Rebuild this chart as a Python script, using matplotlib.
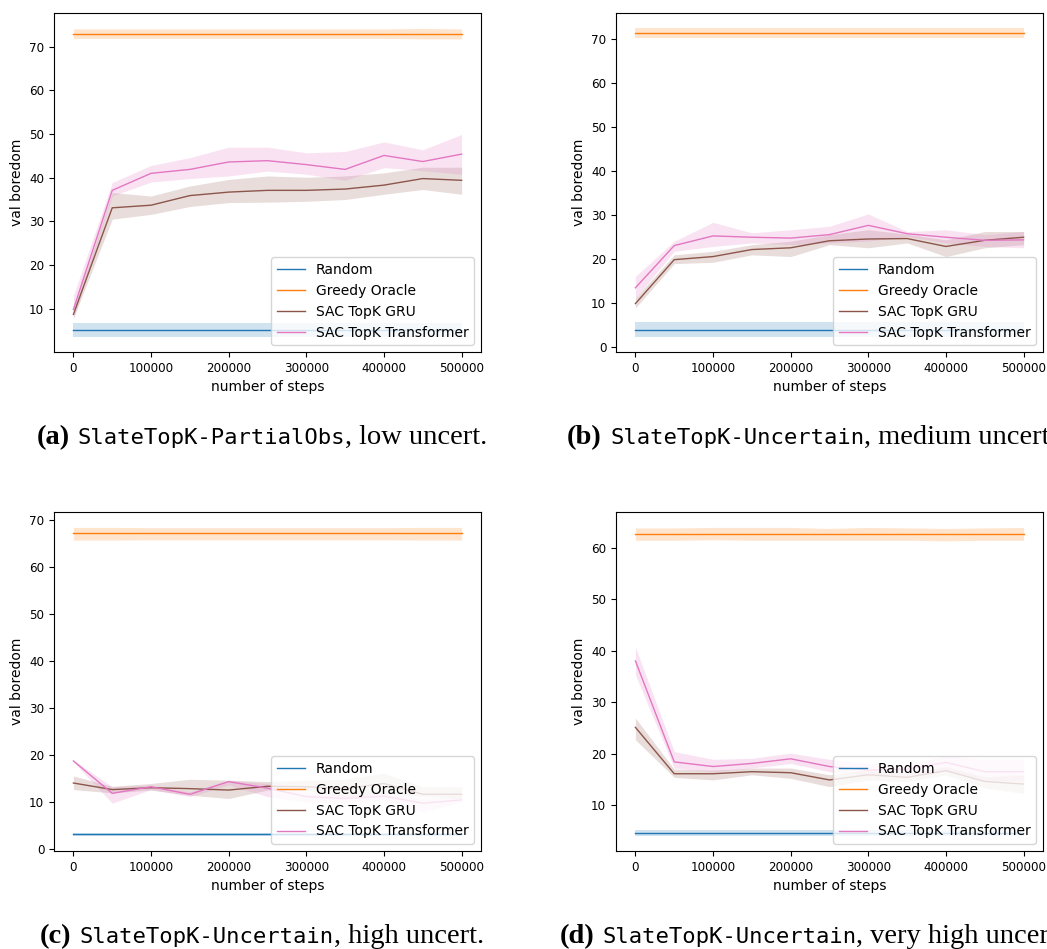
import numpy as np
import matplotlib
matplotlib.use('Agg')
import matplotlib.pyplot as plt
from matplotlib.transforms import IdentityTransform

W, H = 1047, 949

STEPS = [0, 50000, 100000, 150000, 200000, 250000, 300000, 350000, 400000, 450000, 500000]
LABELS = ['Random', 'Greedy Oracle', 'SAC TopK GRU', 'SAC TopK Transformer']

# (a) SlateTopK-PartialObs, low uncert.
rand_a = [5.0, 5.0, 5.0, 5.0, 5.0, 5.0, 5.0, 5.0, 5.0, 5.0, 5.0]
rand_a_lo = [3.6, 3.6, 3.6, 3.6, 3.6, 3.6, 3.6, 3.6, 3.6, 3.6, 3.6]
rand_a_hi = [6.6, 6.6, 6.6, 6.6, 6.6, 6.6, 6.6, 6.6, 6.6, 6.6, 6.6]
greedy_a = [73.0, 73.0, 73.0, 73.0, 73.0, 73.0, 73.0, 73.0, 73.0, 73.0, 73.0]
greedy_a_lo = [71.9, 71.9, 71.9, 71.9, 71.9, 71.9, 71.9, 71.9, 71.9, 71.8, 71.8]
greedy_a_hi = [74.1, 74.1, 74.1, 74.1, 74.1, 74.1, 74.1, 74.1, 74.1, 74.2, 74.1]
gru_a = [8.7, 33.1, 33.7, 35.9, 36.7, 37.1, 37.1, 37.4, 38.3, 39.8, 39.4]
gru_a_lo = [7.8, 30.5, 31.6, 33.4, 34.3, 34.4, 34.6, 35.0, 36.2, 37.3, 36.2]
gru_a_hi = [9.6, 36.6, 35.8, 38.1, 39.6, 40.4, 40.1, 40.4, 41.1, 42.4, 42.4]
trf_a = [9.8, 37.1, 41.0, 41.9, 43.6, 43.9, 43.0, 41.9, 45.1, 43.7, 45.4]
trf_a_lo = [7.6, 35.8, 39.0, 39.8, 40.4, 41.5, 40.8, 39.4, 42.3, 41.6, 40.8]
trf_a_hi = [13.0, 38.9, 42.8, 44.6, 47.0, 47.0, 45.7, 46.0, 48.2, 46.4, 49.9]

# (b) SlateTopK-Uncertain, medium uncert.
rand_b = [3.9, 3.9, 3.9, 3.9, 3.9, 3.9, 3.9, 3.9, 3.9, 3.9, 3.9]
rand_b_lo = [2.3, 2.3, 2.3, 2.3, 2.3, 2.3, 2.3, 2.3, 2.3, 2.3, 2.3]
rand_b_hi = [5.6, 5.6, 5.6, 5.6, 5.6, 5.6, 5.6, 5.6, 5.6, 5.6, 5.6]
greedy_b = [71.3, 71.3, 71.3, 71.3, 71.3, 71.3, 71.3, 71.3, 71.3, 71.3, 71.3]
greedy_b_lo = [70.2, 70.2, 70.2, 70.2, 70.2, 70.2, 70.2, 70.2, 70.2, 70.2, 70.2]
greedy_b_hi = [72.4, 72.4, 72.4, 72.4, 72.4, 72.4, 72.4, 72.4, 72.4, 72.4, 72.4]
gru_b = [9.8, 19.8, 20.5, 22.1, 22.5, 24.1, 24.5, 24.6, 22.8, 24.2, 24.9]
gru_b_lo = [8.8, 18.9, 19.2, 20.9, 20.5, 23.2, 22.5, 23.6, 20.5, 22.5, 23.2]
gru_b_hi = [11.1, 20.9, 21.7, 23.2, 24.0, 25.5, 26.6, 25.6, 24.3, 26.2, 26.2]
trf_b = [13.4, 23.0, 25.2, 24.9, 24.7, 25.5, 27.6, 25.7, 24.9, 24.2, 24.3]
trf_b_lo = [11.0, 21.7, 22.8, 23.6, 23.2, 23.6, 24.0, 25.1, 23.6, 22.8, 22.5]
trf_b_hi = [16.0, 24.0, 28.3, 25.9, 26.6, 27.4, 30.2, 26.2, 26.6, 25.5, 26.2]

# (c) SlateTopK-Uncertain, high uncert.
rand_c = [3.05, 3.05, 3.05, 3.05, 3.05, 3.05, 3.05, 3.05, 3.05, 3.05, 3.05]
rand_c_lo = [2.8, 2.8, 2.8, 2.8, 2.8, 2.8, 2.8, 2.8, 2.8, 2.8, 2.8]
rand_c_hi = [3.3, 3.3, 3.3, 3.3, 3.3, 3.3, 3.3, 3.3, 3.3, 3.3, 3.3]
greedy_c = [67.2, 67.2, 67.2, 67.2, 67.2, 67.2, 67.2, 67.2, 67.2, 67.2, 67.2]
greedy_c_lo = [65.75, 65.75, 65.8, 65.8, 65.8, 65.8, 65.8, 65.8, 65.8, 65.75, 65.75]
greedy_c_hi = [68.45, 68.45, 68.4, 68.4, 68.4, 68.4, 68.4, 68.4, 68.4, 68.45, 68.45]
gru_c = [14.0, 12.6, 13.0, 12.8, 12.5, 13.3, 13.2, 12.8, 13.9, 11.6, 11.6]
gru_c_lo = [12.6, 11.9, 12.5, 11.4, 10.7, 12.5, 12.5, 10.9, 11.8, 11.1, 10.7]
gru_c_hi = [15.5, 13.3, 13.9, 14.8, 14.6, 14.3, 14.6, 14.8, 16.1, 13.2, 13.2]
trf_c = [18.7, 11.8, 13.2, 11.6, 14.3, 12.9, 11.1, 10.7, 11.2, 9.7, 10.4]
trf_c_lo = [18.5, 9.7, 12.6, 11.1, 13.6, 11.1, 10.0, 10.0, 10.4, 7.9, 10.0]
trf_c_hi = [18.9, 13.2, 13.6, 12.1, 14.6, 13.9, 12.1, 11.4, 11.8, 10.7, 11.1]

# (d) SlateTopK-Uncertain, very high uncert.
rand_d = [4.6, 4.6, 4.6, 4.6, 4.6, 4.6, 4.6, 4.6, 4.6, 4.6, 4.6]
rand_d_lo = [4.1, 4.1, 4.1, 4.1, 4.1, 4.1, 4.1, 4.1, 4.1, 4.1, 4.1]
rand_d_hi = [5.1, 5.1, 5.1, 5.1, 5.1, 5.1, 5.1, 5.1, 5.1, 5.1, 5.1]
greedy_d = [62.6, 62.6, 62.6, 62.6, 62.6, 62.6, 62.6, 62.6, 62.6, 62.6, 62.6]
greedy_d_lo = [61.4, 61.4, 61.5, 61.4, 61.4, 61.4, 61.4, 61.4, 61.3, 61.4, 61.4]
greedy_d_hi = [63.8, 63.8, 63.9, 63.9, 63.9, 63.7, 63.9, 63.8, 63.7, 63.8, 63.9]
gru_d = [25.1, 16.1, 16.1, 16.5, 16.3, 14.9, 15.9, 15.4, 16.7, 14.6, 14.1]
gru_d_lo = [22.7, 15.4, 14.9, 15.9, 15.2, 13.6, 14.9, 14.6, 15.9, 13.3, 12.3]
gru_d_hi = [26.9, 17.0, 16.8, 17.2, 17.2, 15.9, 16.8, 16.2, 17.5, 15.5, 15.9]
trf_d = [38.0, 18.4, 17.5, 18.1, 19.0, 17.5, 16.8, 17.0, 18.3, 16.5, 16.5]
trf_d_lo = [35.3, 17.2, 16.5, 17.2, 18.1, 16.5, 15.9, 15.9, 16.8, 14.6, 14.9]
trf_d_hi = [40.7, 20.4, 18.9, 19.1, 20.1, 18.9, 18.1, 17.8, 19.6, 18.9, 18.9]

CAPTIONS = [
    ('(a)', 'SlateTopK-PartialObs', ', low uncert.'),
    ('(b)', 'SlateTopK-Uncertain', ', medium uncert.'),
    ('(c)', 'SlateTopK-Uncertain', ', high uncert.'),
    ('(d)', 'SlateTopK-Uncertain', ', very high uncert.'),
]

COLORS = ['#1f77b4', '#ff7f0e', '#8c564b', '#e377c2']


def draw_caption(fig, parts, x_center, y_base):
    r = fig.canvas.get_renderer()
    serif = dict(family='Liberation Serif', size=20.5)
    styles = [dict(serif, weight='bold'), dict(family='DejaVu Sans Mono', size=16), serif]
    gaps = [8, 0, 0]
    texts = []
    for s, st in zip(parts, styles):
        t = fig.text(0, y_base, s, transform=IdentityTransform(), va='baseline', **st)
        texts.append(t)
    widths = [t.get_window_extent(r).width for t in texts]
    total = sum(widths) + sum(gaps[:-1])
    x = x_center - total / 2
    for t, w, g in zip(texts, widths, gaps):
        t.set_x(x)
        x += w + g


def main():
    fig = plt.figure(figsize=(W / 100, H / 100), dpi=100)
    panels = [
        (rand_a, rand_a_lo, rand_a_hi, greedy_a, greedy_a_lo, greedy_a_hi,
         gru_a, gru_a_lo, gru_a_hi, trf_a, trf_a_lo, trf_a_hi),
        (rand_b, rand_b_lo, rand_b_hi, greedy_b, greedy_b_lo, greedy_b_hi,
         gru_b, gru_b_lo, gru_b_hi, trf_b, trf_b_lo, trf_b_hi),
        (rand_c, rand_c_lo, rand_c_hi, greedy_c, greedy_c_lo, greedy_c_hi,
         gru_c, gru_c_lo, gru_c_hi, trf_c, trf_c_lo, trf_c_hi),
        (rand_d, rand_d_lo, rand_d_hi, greedy_d, greedy_d_lo, greedy_d_hi,
         gru_d, gru_d_lo, gru_d_hi, trf_d, trf_d_lo, trf_d_hi),
    ]
    # axes boxes in pixels: left, top
    boxes = [(54, 13), (616, 13), (54, 512), (616, 512)]
    ax_w, ax_h = 427, 339
    for i, (vals, (left, top)) in enumerate(zip(panels, boxes)):
        ax = fig.add_axes([left / W, 1 - (top + ax_h) / H, ax_w / W, ax_h / H])
        for k in range(4):
            mean, lo, hi = vals[3 * k], vals[3 * k + 1], vals[3 * k + 2]
            ax.plot(STEPS, mean, color=COLORS[k], lw=1.0, label=LABELS[k])
            ax.fill_between(STEPS, lo, hi, color=COLORS[k], alpha=0.2, lw=0)
        ax.set_xlabel('number of steps', fontsize=10)
        ax.set_ylabel('val boredom', fontsize=10)
        ax.tick_params(labelsize=8.6)
        ax.ticklabel_format(axis='x', style='plain')
        ax.legend(loc='lower right', fontsize=10)

    # captions under each panel, cropped at the right edge like the source
    draw_caption(fig, CAPTIONS[0], 262, H - 444)
    draw_caption(fig, CAPTIONS[1], 812, H - 444)
    draw_caption(fig, CAPTIONS[2], 262, H - 943)
    draw_caption(fig, CAPTIONS[3], 812, H - 943)

    fig.savefig('out.png', dpi=100)


if __name__ == "__main__":
    main()
